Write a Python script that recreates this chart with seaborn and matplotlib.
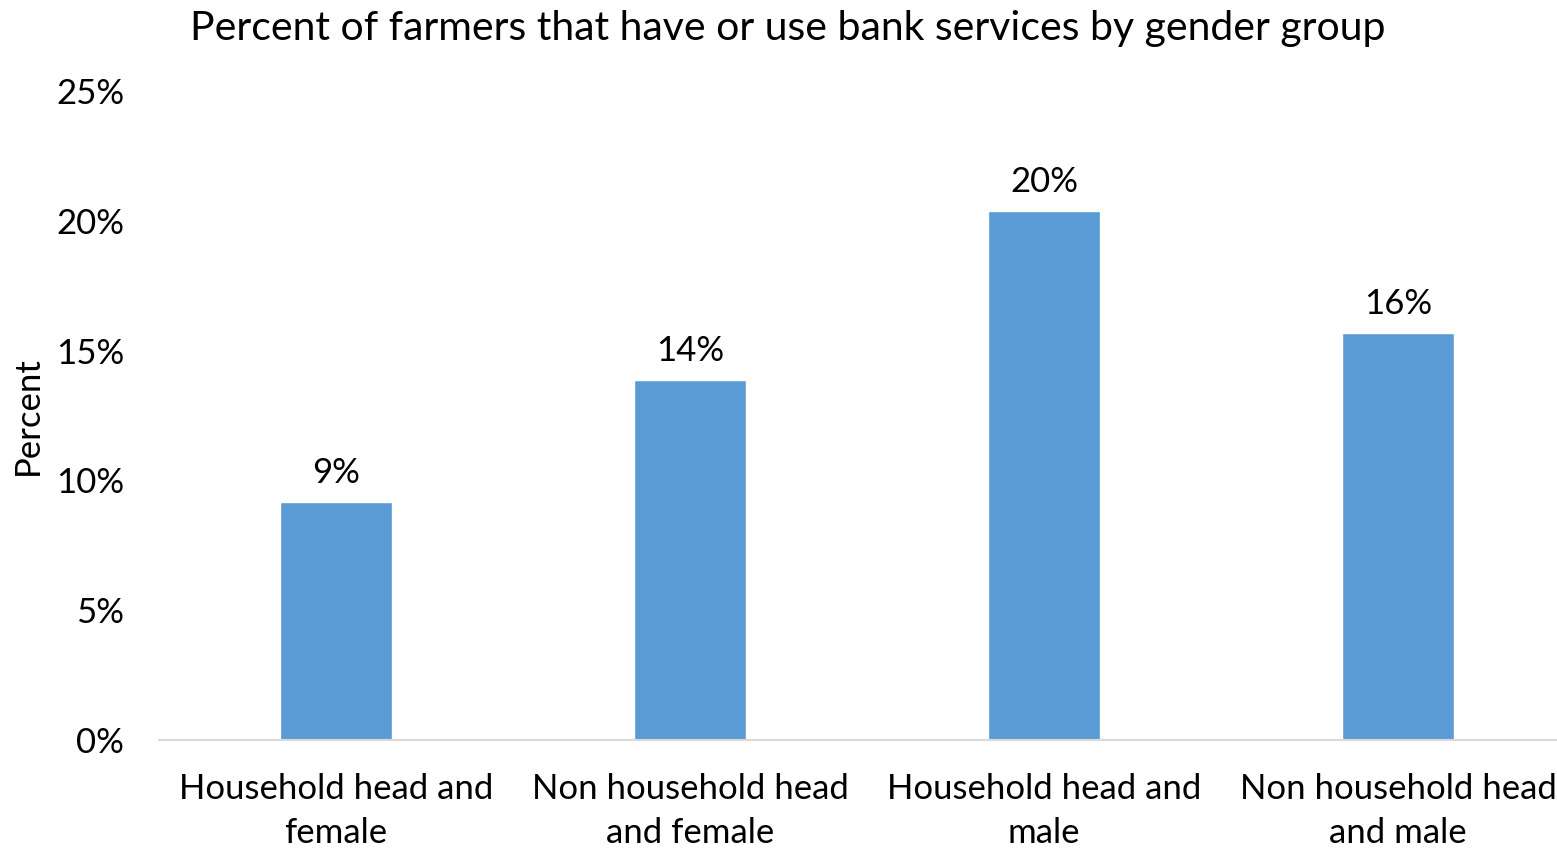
import matplotlib
matplotlib.use("Agg")
import matplotlib.pyplot as plt
import seaborn as sns
import pandas as pd
from matplotlib.ticker import PercentFormatter

# Share of farmers with or using bank services, by gender group
categories = [
    "Household head and\nfemale",
    "Non household head\nand female",
    "Household head and\nmale",
    "Non household head\nand male",
]
percent = [9.17, 13.87, 20.38, 15.68]
y_ticks = [0, 5, 10, 15, 20, 25]

sns.set_theme(style="white")
plt.rcParams["font.family"] = ["Lato", "DejaVu Sans"]

df = pd.DataFrame({"group": categories, "percent": percent})

fig = plt.figure(figsize=(15.57, 8.5), dpi=100)
ax = fig.add_axes([159 / 1557, 1 - 740 / 850, 1416 / 1557, (740 - 91) / 850])

sns.barplot(data=df, x="group", y="percent", color="#5B9BD5", width=0.314,
            saturation=1, ax=ax)

for patch, val in zip(ax.patches, percent):
    ax.annotate(f"{val:.0f}%", (patch.get_x() + patch.get_width() / 2, val),
                xytext=(0, 9), textcoords="offset points",
                ha="center", va="bottom", fontsize=25, color="#000000")

ax.set_ylim(0, 25)
ax.set_yticks(y_ticks)
ax.yaxis.set_major_formatter(PercentFormatter(decimals=0))
ax.set_xlim(-0.5, 3.5)
ax.tick_params(axis="y", labelsize=25, length=0, pad=25, colors="#000000")
ax.tick_params(axis="x", labelsize=25, length=0, pad=24, colors="#000000")
for lbl in ax.get_xticklabels():
    lbl.set_linespacing(1.45)

ax.set_xlabel("")
ax.set_ylabel("Percent", fontsize=25, color="#000000")
ax.yaxis.set_label_coords(-0.081, 0.5)

sns.despine(ax=ax, left=True, top=True, right=True)
ax.spines["bottom"].set_color("#D9D9D9")
ax.spines["bottom"].set_linewidth(1.5)

fig.suptitle("Percent of farmers that have or use bank services by gender group",
             x=788 / 1557, y=1 - 10 / 850, va="top", fontsize=29.5, color="#000000")

fig.savefig("out.png", dpi=100, facecolor="white")
